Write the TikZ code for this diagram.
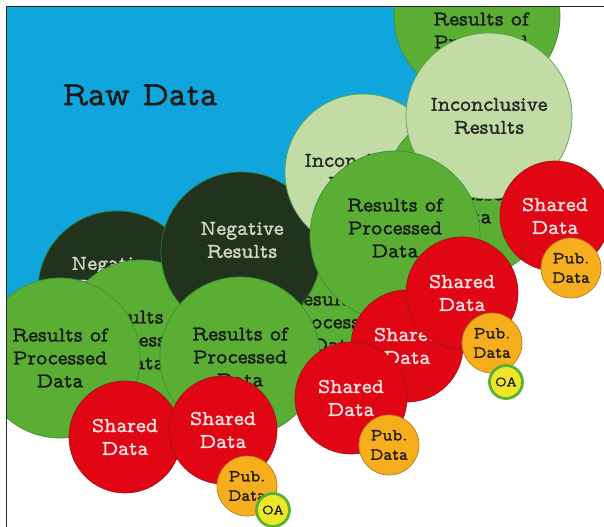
\documentclass[tikz,border=0pt]{standalone}
\usepackage{fontspec}
\newfontfamily\twfam[FakeBold=1.3]{lmmonoprop10-regular.otf}
\usepackage{tikz}

\definecolor{rawblue}{HTML}{10A6DD}
\definecolor{resgreen}{HTML}{5AAE33}
\definecolor{resline}{HTML}{3A9238}
\definecolor{incgreen}{HTML}{C3DCA5}
\definecolor{incline}{HTML}{4FA653}
\definecolor{negdark}{HTML}{22331D}
\definecolor{negline}{HTML}{2E7A30}
\definecolor{negtext}{HTML}{D6D6CA}
\definecolor{sharedred}{HTML}{E10613}
\definecolor{sharedline}{HTML}{9E1418}
\definecolor{sharedtext}{HTML}{F8E2E2}
\definecolor{puborange}{HTML}{F6AE1C}
\definecolor{publine}{HTML}{B07D22}
\definecolor{oayellow}{HTML}{EFE62A}
\definecolor{oaring}{HTML}{5AB132}
\definecolor{framegray}{HTML}{2A2A2A}

\newcommand{\labelfont}{\twfam\fontsize{18}{19.6}\selectfont}
\newcommand{\pubfont}{\twfam\fontsize{14.5}{16.5}\selectfont}
\newcommand{\oafont}{\twfam\fontsize{12}{14}\selectfont}
\newcommand{\rawfont}{\twfam\fontsize{29}{32}\selectfont}

\begin{document}
\begin{tikzpicture}[x=0.03cm, y=-0.03cm,
	bubble/.style={circle, inner sep=0pt, minimum size=#1*0.06cm, align=center, font=\labelfont},
	results/.style={bubble=#1, fill=resgreen, draw=resline, line width=0.6pt, text=black!90},
	inconcl/.style={bubble=#1, fill=incgreen, draw=incline, line width=0.6pt, text=black!85},
	negative/.style={bubble=#1, fill=negdark, draw=negline, line width=0.6pt},
	shared/.style={bubble=#1, fill=sharedred, draw=sharedline, line width=0.6pt, text=sharedtext},
	pub/.style={bubble=30, fill=puborange, draw=publine, line width=0.6pt, font=\pubfont, text=black!90},
	oa/.style={bubble=16.5, fill=oayellow, draw=oaring, line width=2.4pt, font=\oafont, text=black!90},
	caption/.style={align=center, inner sep=0pt, font=\labelfont}]
	\useasboundingbox (0,0) rectangle (604,527);
	\begin{scope}
		\clip (6.5,6.5) rectangle (604,527);
		\node[bubble=280, fill=rawblue] (raw data) at (150,85) {};
		\node[font=\rawfont, text=black!90] (raw data label) at (140,95) {Raw Data};

		\node[results=83] (results top) at (477,16) {};
		\node[caption, text=black!90] (results top label) at (481,42) {Results of\\Processed\\Data};

		\node[negative=79] (negative left) at (117,290) {};
		\node[caption, text=negtext] (negative left label) at (113,275) {Negative\\Results};
		\node[results=80] (results midleft) at (141,340) {Results of\\Processed\\Data};
		\node[results=80] (results left) at (60,358) {Results of\\Processed\\Data};
		\node[results=80] (results hidden) at (335,322) {Results of\\Processed\\Data};

		\node[negative=80] (negative right) at (241,252) {};
		\node[caption, text=negtext] (negative right label) at (242,240) {Negative\\Results};

		\node[inconcl=78] (inconclusive left) at (363,172) {Inconclusive\\Results};
		\node[results=84] (results mid) at (468,194) {Results of\\Processed\\Data};
		\node[inconcl=83] (inconclusive right) at (489,116) {Inconclusive\\Results};
		\node[results=85] (results front) at (395,236) {};
		\node[caption, text=black!90] (results front label) at (395,228) {Results of\\Processed\\Data};
		\node[results=80] (results right) at (240,357) {Results of\\Processed\\Data};

		\node[shared=56] (shared 1) at (125,437) {Shared\\Data};
		\node[shared=54] (shared 2) at (223,430) {Shared\\Data};
		\node[pub] (pub 2) at (247,486) {Pub.\\Data};
		\node[oa] (oa 2) at (273,510) {OA};

		\node[shared=56] (shared 3) at (407,346) {Shared\\Data};
		\node[shared=56] (shared 4) at (351,398) {Shared\\Data};
		\node[pub] (pub 4) at (389,445) {Pub.\\Data};

		\node[shared=56] (shared 5) at (462,293) {Shared\\Data};
		\node[pub] (pub 5) at (492,343) {Pub.\\Data};
		\node[oa] (oa 5) at (506,382) {OA};

		\node[shared=55] (shared 6) at (555,216) {Shared\\Data};
		\node[pub] (pub 6) at (571,268) {Pub.\\Data};
	\end{scope}
	\draw[framegray, line width=1.3pt] (6.5,527) -- (6.5,6.5) -- (604,6.5);
\end{tikzpicture}
\end{document}
